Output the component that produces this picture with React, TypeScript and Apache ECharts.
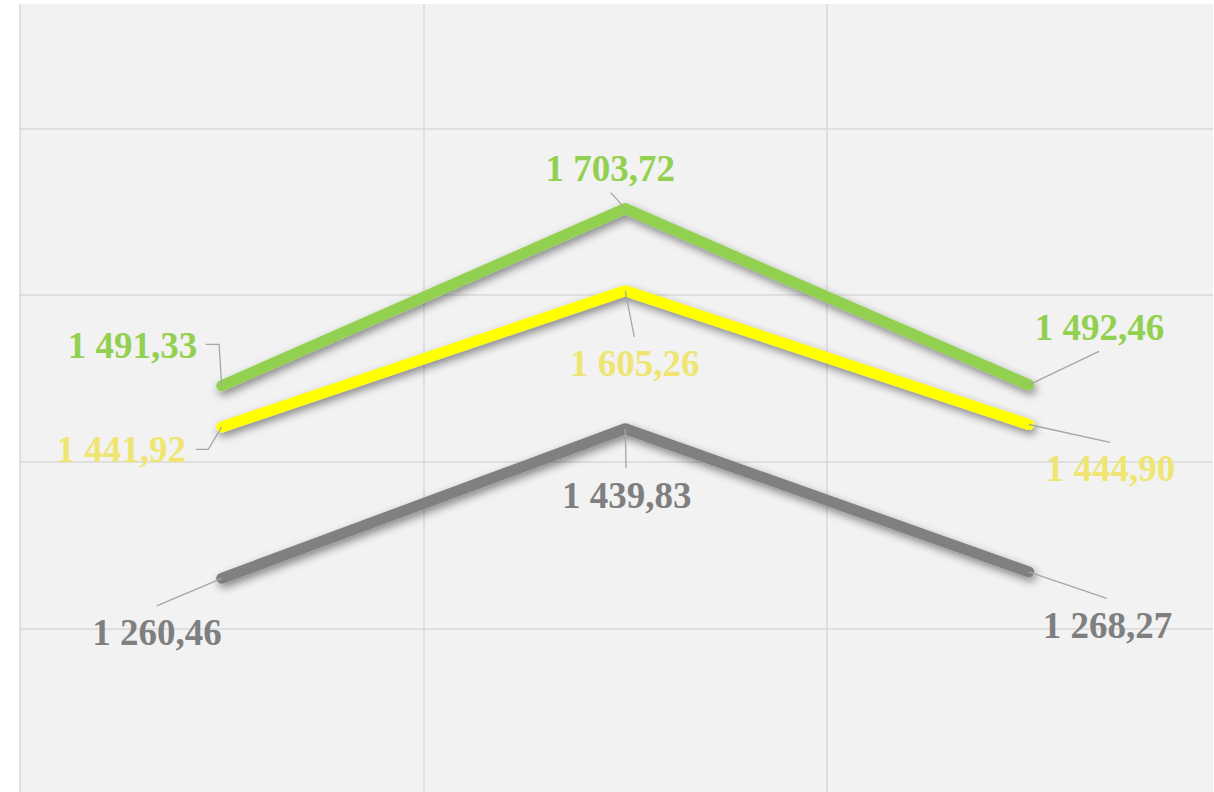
import { useEffect, useRef } from "react";
import * as echarts from "echarts";

// ---- data ----
const categories = ["1", "2", "3"];
const seriesNames = ["Series 1", "Series 2", "Series 3"];
const greenValues = [1491.33, 1703.72, 1492.46];
const yellowValues = [1441.92, 1605.26, 1444.9];
const grayValues = [1260.46, 1439.83, 1268.27];
const yMin = 1000;
const yMax = 2000;
const yStep = 200;

// ---- styling / layout (pixel offsets relative to each data point) ----
const lineColors = ["#92d050", "#ffff00", "#808080"];
const labelColors = ["#92d050", "#efe672", "#7f7f7f"];
const labelOffsets = [
  [[-89.3, -40.3], [-15, -40.3], [70.8, -57.3]],
  [[-100.5, 22.2], [9.4, 72.3], [81.8, 44.3]],
  [[-64.8, 54.6], [1.5, 66.3], [78.8, 53.2]],
];
const leaderBends = [
  [[[-2.7, -41.5], [-16, -41.5]], [[-14.5, -16]], [[70.3, -33.4]]],
  [[[-13.5, 22.3], [-26, 22.3]], [[9, 46]], [[81.3, 17.8]]],
  [[[-65, 27.6]], [[0.8, 39.6]], [[78, 26.5]]],
];

const fmt = (v: number) => {
  const [a, b] = v.toFixed(2).split(".");
  return a.replace(/\B(?=(\d{3})+(?!\d))/g, " ") + "," + b;
};

export default function App() {
  const ref = useRef<HTMLDivElement>(null);
  useEffect(() => {
    if (!ref.current) return;
    const chart = echarts.init(ref.current, undefined, { renderer: "svg" });
    const allValues = [greenValues, yellowValues, grayValues];
    const lineSeries = allValues.map((vals, s) => ({
      type: "line",
      name: seriesNames[s],
      data: vals,
      symbol: "none",
      z: 2 + s * 0.1,
      lineStyle: {
        width: 11,
        color: lineColors[s],
        cap: "round",
        join: "round",
        shadowColor: "rgba(0,0,0,0.45)",
        shadowBlur: 9,
        shadowOffsetX: 2,
        shadowOffsetY: 4,
      },
      itemStyle: { color: lineColors[s] },
    }));
    const labelSeries = allValues.map((vals, s) => ({
      type: "custom",
      name: seriesNames[s] + " labels",
      z: 10,
      silent: true,
      data: vals.map((v, i) => [i, v]),
      encode: { x: 0, y: 1 },
      renderItem: (params: any, api: any) => {
        const i = params.dataIndex;
        const p = api.coord([api.value(0), api.value(1)]);
        const off = labelOffsets[s][i];
        const pts = [p, ...leaderBends[s][i].map(([dx, dy]) => [p[0] + dx, p[1] + dy])];
        return {
          type: "group",
          children: [
            {
              type: "polyline",
              shape: { points: pts },
              style: { stroke: "#a6a6a6", lineWidth: 1.3, fill: null },
            },
            {
              type: "text",
              x: p[0] + off[0],
              y: p[1] + off[1],
              style: {
                text: fmt(api.value(1)),
                fill: labelColors[s],
                font: 'bold 37px "Liberation Serif"',
                align: "center",
                verticalAlign: "middle",
              },
            },
          ],
        };
      },
    }));
    chart.setOption({
      animation: false,
      backgroundColor: "transparent",
      grid: {
        show: true,
        backgroundColor: "#f2f2f2",
        borderWidth: 0,
        left: 20,
        right: -17.5,
        top: -42.5,
        bottom: -3.6,
        outerBoundsMode: "none",
        containLabel: false,
      },
      xAxis: {
        type: "category",
        data: categories,
        boundaryGap: true,
        axisLine: { show: false },
        axisTick: { show: false },
        axisLabel: { show: false },
        splitLine: { show: true, lineStyle: { color: "#d9d9d9", width: 1.5 } },
      },
      yAxis: {
        type: "value",
        min: yMin,
        max: yMax,
        interval: yStep,
        axisLine: { show: false },
        axisTick: { show: false },
        axisLabel: { show: false },
        splitLine: { show: true, lineStyle: { color: "#d9d9d9", width: 1.5 } },
      },
      series: [...lineSeries, ...labelSeries],
    });
    return () => chart.dispose();
  }, []);
  return (
    <div style={{ position: "absolute", left: 0, top: 0, width: 1214, height: 792, background: "#ffffff" }}>
      <div ref={ref} style={{ position: "absolute", left: 0, top: 4, width: 1213, height: 788 }} />
    </div>
  );
}
